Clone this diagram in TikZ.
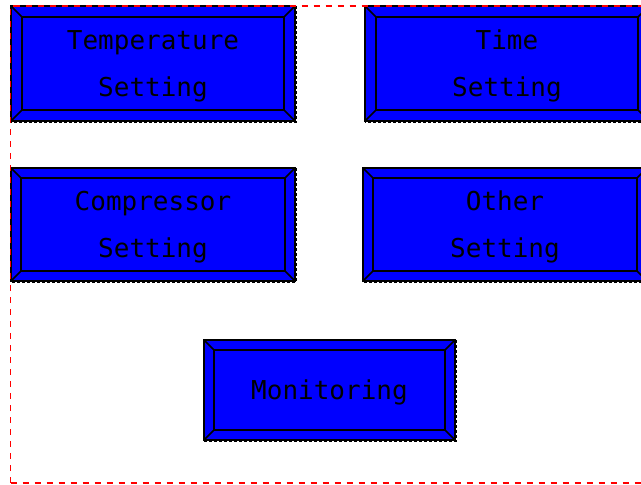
\documentclass[tikz,border=0pt]{standalone}
\usepackage{fontspec}
\newfontfamily\panelfont{DejaVu Sans Mono}
\usetikzlibrary{calc}
% panel caption: centred lines, set slightly below the panel centre
\newcommand\ptext[1]{\raisebox{-3pt}{\begin{tabular}{@{}c@{}}#1\end{tabular}}}
\tikzset{
  panel/.style={rectangle, draw=black, fill=blue, line width=1.5pt, outer sep=0pt,
    inner sep=0pt, text=black,
    font=\panelfont\fontsize{26}{47}\selectfont},
  innerframe/.style={draw=black, line width=2pt},
  bevel/.style={draw=black, line width=1.5pt},
  selshadow/.style={draw=black, line width=2pt, dash pattern=on 3pt off 2pt},
  frame/.style={draw=red, line width=1.4pt, dash pattern=on 6pt off 6pt}
}
\begin{document}
\begin{tikzpicture}[x=1pt,y=1pt]
\useasboundingbox (0,0) rectangle (641,485);
\fill[white] (0,0) rectangle (641,485);

\node[panel, minimum width=284pt, minimum height=115pt] (temp)  at (153,421.5) {\ptext{Temperature\\Setting}};
\node[panel, minimum width=284pt, minimum height=115pt] (time)  at (507,421.5) {\ptext{Time\\Setting}};
\node[panel, minimum width=284pt, minimum height=113pt] (comp)  at (153,260.5) {\ptext{Compressor\\Setting}};
\node[panel, minimum width=284pt, minimum height=113pt] (other) at (505,260.5) {\ptext{Other\\Setting}};
\node[panel, minimum width=251pt, minimum height=100pt] (mon)   at (329.5,95) {\ptext{Monitoring}};

% inner frame, bevel corners and dotted selection edge of each panel
\foreach \n/\d in {temp/11,time/11,comp/10,other/10,mon/10}{
  \coordinate (\n-inw) at ($(\n.north west)+(\d,-\d)$);
  \coordinate (\n-ine) at ($(\n.north east)+(-\d,-\d)$);
  \coordinate (\n-isw) at ($(\n.south west)+(\d,\d)$);
  \coordinate (\n-ise) at ($(\n.south east)+(-\d,\d)$);
  \draw[bevel] (\n.north west) -- (\n-inw);
  \draw[bevel] (\n.north east) -- (\n-ine);
  \draw[bevel] (\n.south west) -- (\n-isw);
  \draw[bevel] (\n.south east) -- (\n-ise);
  \draw[innerframe] (\n-inw) rectangle (\n-ise);
  \draw[selshadow] ($(\n.north east)+(1,0)$) -- ($(\n.south east)+(1,-1)$) -- ($(\n.south west)+(0,-1)$);
}

% dashed outline of the screen area
\draw[frame] (10.5,2) -- (10.5,479) -- (660,479);
\draw[frame] (10.5,2) -- (660,2);
\end{tikzpicture}
\end{document}
